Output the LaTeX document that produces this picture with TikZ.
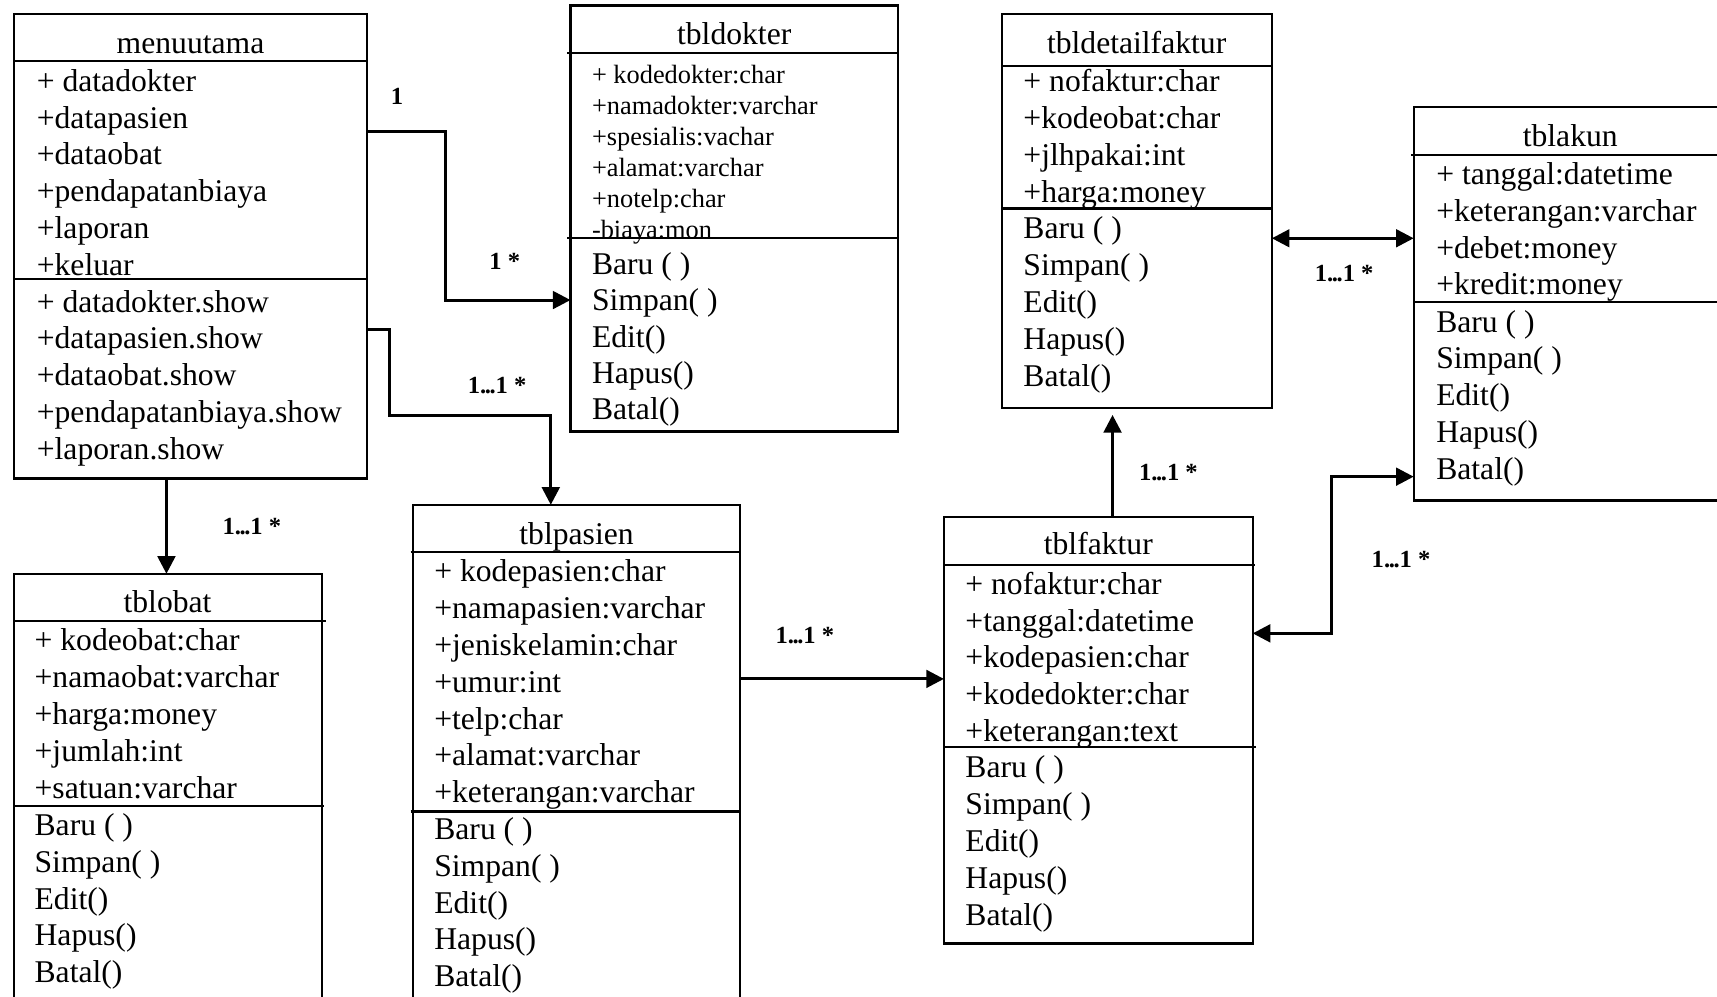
\documentclass[tikz,border=0pt]{standalone}
\usepackage{fontspec}
\setmainfont{Liberation Serif}
\usetikzlibrary{arrows.meta, positioning, fit, calc}
\newcommand\multdots{.\kern-.4pt.\kern-.4pt.}
\tikzset{
  classbox/.style={rectangle, draw=black, line width=0.65pt, inner sep=0pt, outer sep=0pt},
  classname/.style={anchor=base, inner sep=0pt, yshift=-0.35pt, font=\fontsize{9}{10.47}\selectfont},
  members/.style={anchor=north west, inner sep=0pt, align=left, yshift=-0.35pt,
                  font=\fontsize{9}{10.47}\selectfont},
  smallmembers/.style={members, font=\fontsize{7.5}{8.79}\selectfont},
  divider/.style={draw=black, line width=0.65pt},
  link/.style={draw=black, line width=0.85pt, -{Triangle[length=5pt, width=5pt]}},
  dlink/.style={draw=black, line width=0.85pt,
                {Triangle[length=5pt, width=5pt]}-{Triangle[length=5pt, width=5pt]}},
  mult/.style={font=\fontsize{7}{8}\selectfont\bfseries, inner sep=0pt},
}

\begin{document}
\begin{tikzpicture}[x=0.1095mm, y=-0.1095mm]
  \useasboundingbox (0,0) rectangle (1568,910);
  \clip (0,0) rectangle (1568,910);

  % menuutama
  \node[classbox, fit={(13,13) (335,437)}] (menu) {};
  \node[classname] (menu-t) at (174,47.5) {menuutama};
  \node[members] (menu-a) at (33,61.6)
    {+ datadokter\\+datapasien\\+dataobat\\+pendapatanbiaya\\+laporan\\+keluar};
  \node[members] (menu-m) at (33,263.2)
    {+ datadokter.show\\+datapasien.show\\+dataobat.show\\+pendapatanbiaya.show\\+laporan.show};
  \draw[divider] (menu.west |- 0,56) -- (menu.east |- 0,56);
  \draw[divider] (menu.west |- 0,255) -- (menu.east |- 0,255);

  % tbldokter
  \node[classbox, fit={(521,5) (820,394)}] (dok) {};
  \node[classname] (dok-t) at (670.5,39.5) {tbldokter};
  \node[smallmembers] (dok-a) at (540,58.1)
    {+ kodedokter:char\\+namadokter:varchar\\+spesialis:vachar\\+alamat:varchar\\+notelp:char\\-biaya:mon};
  \node[members, font=\fontsize{9}{10.31}\selectfont] (dok-m) at (540,229.1)
    {Baru ( )\\Simpan( )\\Edit()\\Hapus()\\Batal()};
  \draw[divider] (518,48.7) -- (dok.east |- 0,48.7);
  \draw[divider] (518,217.6) -- (dok.east |- 0,217.6);

  % tbldetailfaktur
  \node[classbox, fit={(915,12.5) (1161.5,372.5)}] (det) {};
  \node[classname] (det-t) at (1038,47.5) {tbldetailfaktur};
  \node[members] (det-a) at (934,61.6)
    {+ nofaktur:char\\+kodeobat:char\\+jlhpakai:int\\+harga:money};
  \node[members] (det-m) at (934,196.4)
    {Baru ( )\\Simpan( )\\Edit()\\Hapus()\\Batal()};
  \draw[divider] (det.west |- 0,60.5) -- (det.east |- 0,60.5);
  \draw[divider] (det.west |- 0,190.5) -- (det.east |- 0,190.5);

  % tblakun
  \node[classbox, fit={(1291,97.5) (1577,457)}] (akun) {};
  \node[classname] (akun-t) at (1434,132.5) {tblakun};
  \node[members] (akun-a) at (1311,146.6)
    {+ tanggal:datetime\\+keterangan:varchar\\+debet:money\\+kredit:money};
  \node[members] (akun-m) at (1311,281.4)
    {Baru ( )\\Simpan( )\\Edit()\\Hapus()\\Batal()};
  \draw[divider] (1289,141.5) -- (akun.east |- 0,141.5);
  \draw[divider] (akun.west |- 0,275.5) -- (akun.east |- 0,275.5);

  % tblobat
  \node[classbox, fit={(12.5,524) (294,950)}] (obat) {};
  \node[classname] (obat-t) at (153,558.5) {tblobat};
  \node[members] (obat-a) at (31,572.6)
    {+ kodeobat:char\\+namaobat:varchar\\+harga:money\\+jumlah:int\\+satuan:varchar};
  \node[members] (obat-m) at (31,741.1)
    {Baru ( )\\Simpan( )\\Edit()\\Hapus()\\Batal()};
  \draw[divider] (obat.west |- 0,566.8) -- (297.5,566.8);
  \draw[divider] (obat.west |- 0,736) -- (296,736);

  % tblpasien
  \node[classbox, fit={(377,461) (676,950)}] (pas) {};
  \node[classname] (pas-t) at (526.5,496.5) {tblpasien};
  \node[members] (pas-a) at (396,509.6)
    {+ kodepasien:char\\+namapasien:varchar\\+jeniskelamin:char\\+umur:int\\+telp:char\\+alamat:varchar\\+keterangan:varchar};
  \node[members] (pas-m) at (396,744.8)
    {Baru ( )\\Simpan( )\\Edit()\\Hapus()\\Batal()};
  \draw[divider] (375,504) -- (pas.east |- 0,504);
  \draw[divider] (375,741) -- (pas.east |- 0,741);

  % tblfaktur
  \node[classbox, fit={(862,472) (1144,861.5)}] (fak) {};
  \node[classname] (fak-t) at (1003,505.5) {tblfaktur};
  \node[members] (fak-a) at (881,520.6)
    {+ nofaktur:char\\+tanggal:datetime\\+kodepasien:char\\+kodedokter:char\\+keterangan:text};
  \node[members] (fak-m) at (881,688.6)
    {Baru ( )\\Simpan( )\\Edit()\\Hapus()\\Batal()};
  \draw[divider] (fak.west |- 0,516) -- (1146,516);
  \draw[divider] (fak.west |- 0,682) -- (1147,682);

  % relations
  \draw[link] (menu.east |- 0,120) -- ++(72,0) |- (dok.west |- 0,274);
  \draw[link] (menu.east |- 0,301) -- ++(21,0) -- ++(0,78) -| (pas.north -| 503,0);
  \draw[link] (menu.south -| 152,0) -- (obat.north -| 152,0);
  \draw[link] (pas.east |- 0,620) -- (fak.west |- 0,620);
  \draw[link, shorten >=2pt] (fak.north -| 1016,0) -- (det.south -| 1016,0);
  \draw[dlink] (det.east |- 0,217.6) -- (akun.west |- 0,217.6);
  \draw[dlink] (fak.east |- 0,578.4) -- ++(72,0) |- (akun.west |- 0,435.3);

  \node[mult] (m-dok1) at (362.5,88) {1};
  \node[mult] (m-dok2) at (461,239) {1 *};
  \node[mult] (m-pas) at (454,352) {1\multdots1 *};
  \node[mult] (m-obat) at (230,481) {1\multdots1 *};
  \node[mult] (m-fak) at (735,580) {1\multdots1 *};
  \node[mult] (m-det) at (1067,432) {1\multdots1 *};
  \node[mult] (m-akun1) at (1227.5,249.6) {1\multdots1 *};
  \node[mult] (m-akun2) at (1279.5,511.4) {1\multdots1 *};
\end{tikzpicture}
\end{document}
